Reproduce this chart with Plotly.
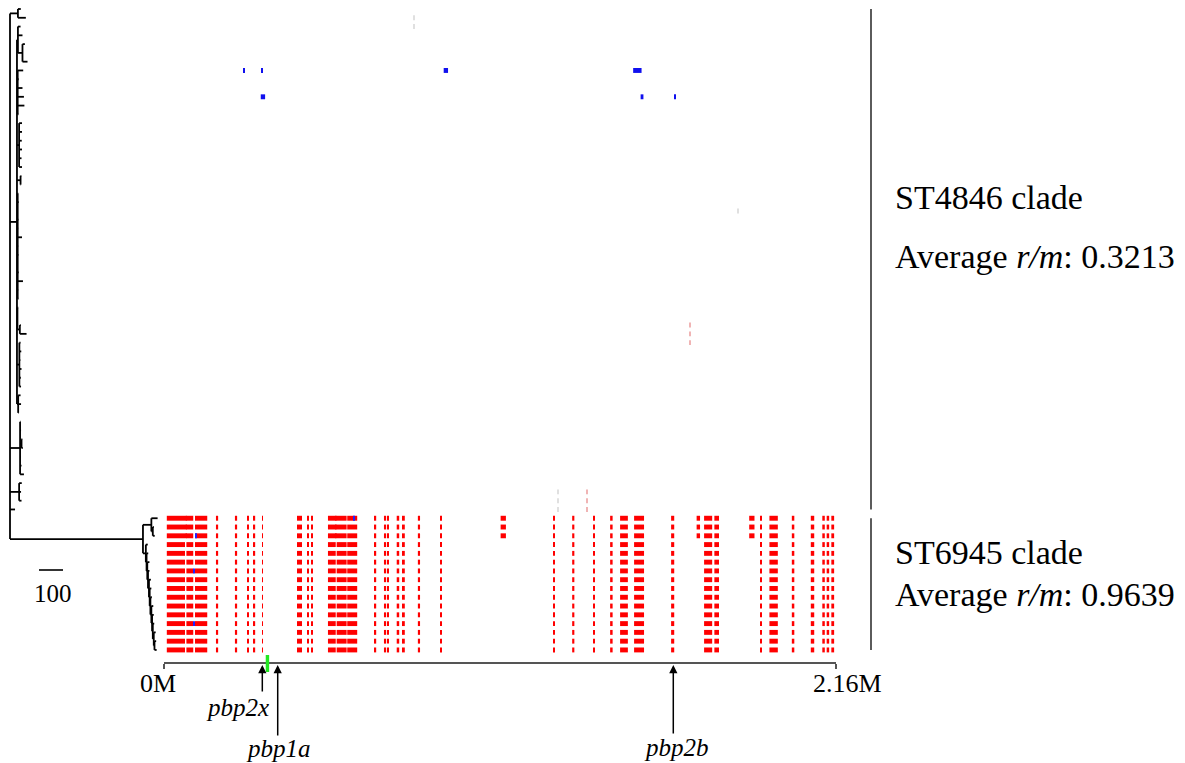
import plotly.graph_objects as go

# ---------------- data ----------------
genome_tick_vals = [0, 2.16]            # Mb
genome_tick_text = ["0M", "2.16M"]

clade_labels = ["ST4846 clade", "ST6945 clade"]
clade_rm = ["0.3213", "0.9639"]

gene_names = ["pbp2x", "pbp1a", "pbp2b"]
gene_pos = [0.316, 0.3655, 1.637]       # Mb
green_region = [0.327, 0.338]           # Mb

scale_bar_value = 100                   # SNPs

# Tree: a node is a leaf branch length, or (branch length, [children]); units = SNPs
tree_c1 = (33, [12, 33])
tree_c2 = (29, [
    (4, [11, 19, (19, [10, 2, 21])]),
    (3, [23, 4, 20, 26, 28, 3]),
    (9, [12, 12, 11, 12, 10, 12]),
    (15, [3, 2]),
    (3, [2, 4, 1, 3, 2, 18, 2, 3, 1, 4, 22, 2, 3]),
    (2, [3, 2, (10, [4, 28])]),
    (10, [5, 8, 4, 9, 6, 7]),
    (5, [10, 12, 2]),
])
tree_c3 = (42, [2, 4, (6, [3, 5]), 2, 6, 16])
tree_c4 = (38, [11, 8, 10])
tree_c5 = 21
st6945_stem = 554
st6945_top = (35, [26, (6, [4, 8])])
ladder_internal = [12, 3, 3, 3, 4, 3, 3, 4, 3, 3, 4, 3]
ladder_leaves = [8, 7, 9, 6, 8, 7, 6, 8, 7, 6, 8, 7, 9]

# recombination blocks (Mb) shared by all ST6945 isolates
st6945_blocks_all = [
    (0.009, 0.0675), (0.072, 0.094), (0.0996, 0.139),
    (0.167, 0.174), (0.228, 0.235), (0.267, 0.273), (0.286, 0.293), (0.315, 0.318),
    (0.4275, 0.4436), (0.460, 0.466), (0.4725, 0.476),
    (0.527, 0.552), (0.555, 0.587), (0.589, 0.621),
    (0.678, 0.682), (0.707, 0.714), (0.718, 0.723), (0.748, 0.756), (0.765, 0.774),
    (0.816, 0.823), (0.888, 0.892),
    (1.251, 1.255), (1.312, 1.319), (1.380, 1.385), (1.434, 1.442), (1.466, 1.491),
    (1.511, 1.543), (1.630, 1.640), (1.736, 1.762), (1.769, 1.784), (1.916, 1.922),
    (1.946, 1.973), (2.018, 2.026), (2.079, 2.090), (2.116, 2.124), (2.130, 2.138),
    (2.145, 2.154),
]
# extra blocks in the first three ST6945 isolates
st6945_blocks_top3 = [(0.0675, 0.072), (0.552, 0.555), (1.082, 1.099), (1.712, 1.723), (1.881, 1.898)]
# blue marks inside ST6945 rows: (isolate index in clade, start, end)
st6945_blue = [(0, 0.609, 0.613), (2, 0.100, 0.104), (6, 0.094, 0.098), (12, 0.094, 0.098)]

# marks in ST4846 isolates: (leaf row, start, end)
st4846_blue = [(7, 0.255, 0.259), (7, 0.312, 0.318), (7, 0.899, 0.913), (7, 1.508, 1.535),
               (10, 0.311, 0.325), (10, 1.532, 1.541), (10, 1.640, 1.645)]
st4846_faint_red = [(36, 1.690, 1.693), (37, 1.690, 1.693), (38, 1.690, 1.693),
                    (55, 1.359, 1.362), (56, 1.359, 1.362), (57, 1.359, 1.362)]
st4846_faint_grey = [(1, 0.803, 0.806), (2, 0.803, 0.806), (23, 1.843, 1.846),
                     (55, 1.265, 1.267), (56, 1.265, 1.267), (57, 1.265, 1.267)]

# ---------------- layout helpers (screen pixels; page body has an 8px margin) ----------------
SHIFT = 8
W, H = 1185 - SHIFT, 763 - SHIFT
ROW0_PX, ROW_PX = 9.0, 8.78           # screen pixel of first leaf row, row spacing
TREE_ROOT_PX, TREE_PX_PER_UNIT = 10.0, 0.24
GEN_X0_PX, GEN_X1_PX = 164.0, 836.0
AXIS_PX = 663.0
FONT = "Liberation Serif, Times New Roman, serif"


def paper_x(px):
    return (px - SHIFT) / W


def paper_y(px):
    return 1 - (px - SHIFT) / H


def ladder(internal, leaves):
    node = (internal[-1], [leaves[-2], leaves[-1]])
    for i in range(len(internal) - 2, -1, -1):
        node = (internal[i], [leaves[i], node])
    return node


tree_c6 = (st6945_stem, [st6945_top, ladder(ladder_internal, ladder_leaves)])
tree = (0, [tree_c1, tree_c2, tree_c3, tree_c4, tree_c5, tree_c6])

tx, ty = [], []
counter = [0]


def lay(node, xp):
    if isinstance(node, (int, float)):
        r = counter[0]
        counter[0] += 1
        tx.extend([xp, xp + node, None])
        ty.extend([r, r, None])
        return r
    bl, kids = node
    x = xp + bl
    ys = [lay(k, x) for k in kids]
    y = (ys[0] + ys[-1]) / 2
    tx.extend([x, x, None, xp, x, None])
    ty.extend([ys[0], ys[-1], None, y, y, None])
    return y


lay(tree, 0)
n_leaves = counter[0]
n_st6945 = 16
st6945_rows = list(range(n_leaves - n_st6945, n_leaves))
st4846_rows = list(range(0, n_leaves - n_st6945))

fig = go.Figure()

fig.add_trace(go.Scatter(x=tx, y=ty, mode="lines", line=dict(color="black", width=1.8),
                         xaxis="x2", yaxis="y", hoverinfo="skip"))


def add_blocks(items, color):
    ys = [i[0] for i in items]
    base = [i[1] for i in items]
    lens = [i[2] - i[1] for i in items]
    fig.add_trace(go.Bar(orientation="h", y=ys, base=base, x=lens, width=0.56,
                         marker=dict(color=color, line=dict(width=0)),
                         xaxis="x", yaxis="y", hoverinfo="skip"))


red_items = []
for k, r in enumerate(st6945_rows):
    for s, e in st6945_blocks_all:
        red_items.append((r, s, e))
    if k < 3:
        for s, e in st6945_blocks_top3:
            red_items.append((r, s, e))
add_blocks(red_items, "#ff0000")
add_blocks([(st6945_rows[i], s, e) for i, s, e in st6945_blue], "#2020ff")
add_blocks(st4846_blue, "#1010ee")
add_blocks(st4846_faint_red, "#f0b4b4")
add_blocks(st4846_faint_grey, "#e0e0e0")

# y axis: rows -> pixels
y_top = -(ROW0_PX - SHIFT) / ROW_PX
y_bot = (H + SHIFT - ROW0_PX) / ROW_PX
x2_lo = -(TREE_ROOT_PX - SHIFT) / TREE_PX_PER_UNIT
x2_hi = (W + SHIFT - TREE_ROOT_PX) / TREE_PX_PER_UNIT

shapes = []
# clade brackets
for rows in (st4846_rows, st6945_rows):
    shapes.append(dict(type="line", xref="paper", yref="y", x0=paper_x(871), x1=paper_x(871),
                       y0=rows[0], y1=rows[-1], line=dict(color="#333333", width=1.6)))
# green pbp region on genome axis
shapes.append(dict(type="rect", xref="x", yref="paper", x0=green_region[0], x1=green_region[1],
                   y0=paper_y(672), y1=paper_y(655), fillcolor="#22e822", line=dict(width=0)))
# scale bar
sb0 = (39 - TREE_ROOT_PX) / TREE_PX_PER_UNIT
shapes.append(dict(type="line", xref="x2", yref="paper", x0=sb0, x1=sb0 + scale_bar_value,
                   y0=paper_y(570), y1=paper_y(570), line=dict(color="black", width=1.6)))

ann = []
# clade text
text_rows = [(198, 257), (552, 594)]
for lab, rm, (y1, y2) in zip(clade_labels, clade_rm, text_rows):
    ann.append(dict(text=lab, x=paper_x(893), y=paper_y(y1), xref="paper", yref="paper",
                    xanchor="left", yanchor="middle", showarrow=False,
                    font=dict(family=FONT, size=34, color="black")))
    ann.append(dict(text="Average <i>r/m</i>: " + rm, x=paper_x(893), y=paper_y(y2),
                    xref="paper", yref="paper", xanchor="left", yanchor="middle",
                    showarrow=False, font=dict(family=FONT, size=34, color="black")))
# genome tick labels
for v, t, sh in zip(genome_tick_vals, genome_tick_text, [-6, 11]):
    ann.append(dict(text=t, x=v, y=paper_y(683), xref="x", yref="paper", xshift=sh,
                    xanchor="center", yanchor="middle", showarrow=False,
                    font=dict(family=FONT, size=26, color="black")))
# gene arrows & labels
tails = [693, 737, 735]
label_y = [707, 748, 747]
label_shift = [-25, 1, 3]
for g, p, tl, ly, ls in zip(gene_names, gene_pos, tails, label_y, label_shift):
    ann.append(dict(text="", x=p, y=paper_y(665), xref="x", yref="paper", showarrow=True,
                    ax=0, ay=tl - 665, arrowhead=2, arrowsize=1.1, arrowwidth=1.5,
                    arrowcolor="black"))
    ann.append(dict(text="<i>" + g + "</i>", x=p, y=paper_y(ly), xref="x", yref="paper",
                    xshift=ls, xanchor="center", yanchor="middle", showarrow=False,
                    font=dict(family=FONT, size=25, color="black")))
# scale bar label
ann.append(dict(text=str(scale_bar_value), x=sb0 + scale_bar_value / 2, y=paper_y(593),
                xref="x2", yref="paper", xshift=2, xanchor="center", yanchor="middle",
                showarrow=False, font=dict(family=FONT, size=25, color="black")))

fig.update_layout(
    width=W, height=H, margin=dict(l=0, r=0, t=0, b=0),
    paper_bgcolor="white", plot_bgcolor="rgba(0,0,0,0)", showlegend=False,
    barmode="overlay",
    xaxis=dict(domain=[paper_x(GEN_X0_PX), paper_x(GEN_X1_PX)],
               range=[genome_tick_vals[0], genome_tick_vals[-1]],
               anchor="free", position=paper_y(AXIS_PX), showgrid=False, zeroline=False,
               showline=True, linecolor="#555555", linewidth=2, ticks="outside",
               tickvals=genome_tick_vals, ticklen=5, tickwidth=2, tickcolor="#555555",
               showticklabels=False, fixedrange=True),
    xaxis2=dict(domain=[0, 1], range=[x2_lo, x2_hi], anchor="y", visible=False),
    yaxis=dict(domain=[0, 1], range=[y_bot, y_top], anchor="x2", visible=False),
    shapes=shapes, annotations=ann,
)

fig.write_html("out.html")
